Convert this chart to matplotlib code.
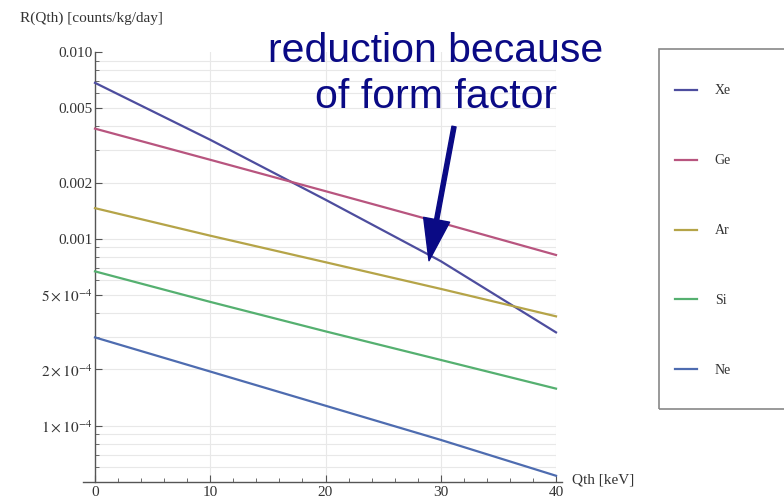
import numpy as np
import matplotlib
matplotlib.use("Agg")
import matplotlib.pyplot as plt
from matplotlib.lines import Line2D
from matplotlib.patches import Rectangle
from matplotlib.ticker import FixedLocator, NullFormatter

# Rates (counts/kg/day) at Qth = 0, 10, 20, 30, 40 keV
qth = [0, 10, 20, 30, 40]
xe = [6.84e-3, 3.39e-3, 1.62e-3, 7.6e-4, 3.16e-4]
ge = [3.89e-3, 2.65e-3, 1.80e-3, 1.22e-3, 8.2e-4]
ar = [1.46e-3, 1.04e-3, 7.5e-4, 5.4e-4, 3.85e-4]
si = [6.7e-4, 4.6e-4, 3.2e-4, 2.25e-4, 1.58e-4]
ne = [2.97e-4, 1.95e-4, 1.28e-4, 8.4e-5, 5.4e-5]

names = ["Xe", "Ge", "Ar", "Si", "Ne"]
series = [xe, ge, ar, si, ne]
colors = ["#4d4d9e", "#b8557f", "#b5a448", "#55b070", "#4e6cb0"]

ytick_vals = [1e-4, 2e-4, 5e-4, 1e-3, 2e-3, 5e-3, 1e-2]
ytick_labels = [r"$1\times10^{-4}$", r"$2\times10^{-4}$", r"$5\times10^{-4}$",
                "0.001", "0.002", "0.005", "0.010"]

plt.rcParams["font.family"] = ["Liberation Serif", "DejaVu Serif"]
plt.rcParams["mathtext.fontset"] = "stix"

fig = plt.figure(figsize=(7.84, 5.04), dpi=100)
W, H = 784, 504
ax = fig.add_axes([95 / W, 1 - 482 / H, (556 - 95) / W, (482 - 52) / H])

for vals, c, n in zip(series, colors, names):
    ax.plot(qth, vals, color=c, lw=1.6, label=n, clip_on=False, zorder=3)

ax.set_yscale("log")
ax.set_xlim(0, 40)
ax.set_ylim(5e-5, 1e-2)

# grid lines like Mathematica's automatic grid
minor_y = [m * 10.0 ** e for e in (-5, -4, -3) for m in range(1, 10)]
minor_y = [v for v in minor_y if 5e-5 < v < 1e-2]
for v in minor_y:
    ax.axhline(v, color="#e8e8e8", lw=0.8, zorder=0)
for v in [10, 20, 30, 40]:
    ax.axvline(v, color="#e8e8e8", lw=0.8, zorder=0)

ax.yaxis.set_major_locator(FixedLocator(ytick_vals))
ax.set_yticklabels(ytick_labels)
ax.yaxis.set_minor_locator(FixedLocator(minor_y))
ax.yaxis.set_minor_formatter(NullFormatter())
ax.set_xticks([0, 10, 20, 30, 40])
ax.xaxis.set_minor_locator(FixedLocator(np.arange(0, 41, 2)))

ax.tick_params(which="both", direction="in", color="#555555", labelsize=11,
               labelcolor="#333333")
ax.tick_params(which="major", length=5, width=0.8)
ax.tick_params(which="minor", length=3, width=0.6)
ax.tick_params(axis="y", pad=2)
ax.tick_params(axis="x", pad=3)

for s in ["top", "right"]:
    ax.spines[s].set_visible(False)
for s in ["left", "bottom"]:
    ax.spines[s].set_color("#555555")
    ax.spines[s].set_linewidth(1.0)
ax.spines["bottom"].set_bounds(-1.0, 40.5)

fig.text(20 / W, 1 - 18 / H, "R(Qth) [counts/kg/day]", fontsize=11,
         color="#333333", va="center", ha="left")
fig.text(572 / W, 1 - 480 / H, "Qth [keV]", fontsize=11, color="#333333",
         va="center", ha="left")

# annotation
navy = "#0a0a85"
fig.text(436 / W, 1 - 74 / H, "reduction because\nof form factor",
         fontsize=29.5, color=navy, ha="center", va="center",
         multialignment="center", family=["Liberation Sans", "DejaVu Sans"],
         linespacing=1.25)
ax.annotate("", xy=(28.98, 7.64e-4), xytext=(31.15, 3.99e-3),
            arrowprops=dict(width=3.0, headwidth=19, headlength=30,
                            color=navy, shrink=0),
            zorder=5)

# legend box
fig.patches.append(Rectangle((659 / W, 1 - 409 / H), 140 / W, 360 / H,
                             transform=fig.transFigure, fill=False,
                             edgecolor="#888888", lw=1.2))
handles = [Line2D([], [], color=c, lw=1.6) for c in colors]
fig.legend(handles, names, loc="upper left",
           bbox_to_anchor=(662 / W, 1 - 72 / H), frameon=False,
           fontsize=10, handlelength=1.6, handletextpad=1.3,
           labelspacing=4.1, labelcolor="#333333")

fig.savefig("out.png", dpi=100)
